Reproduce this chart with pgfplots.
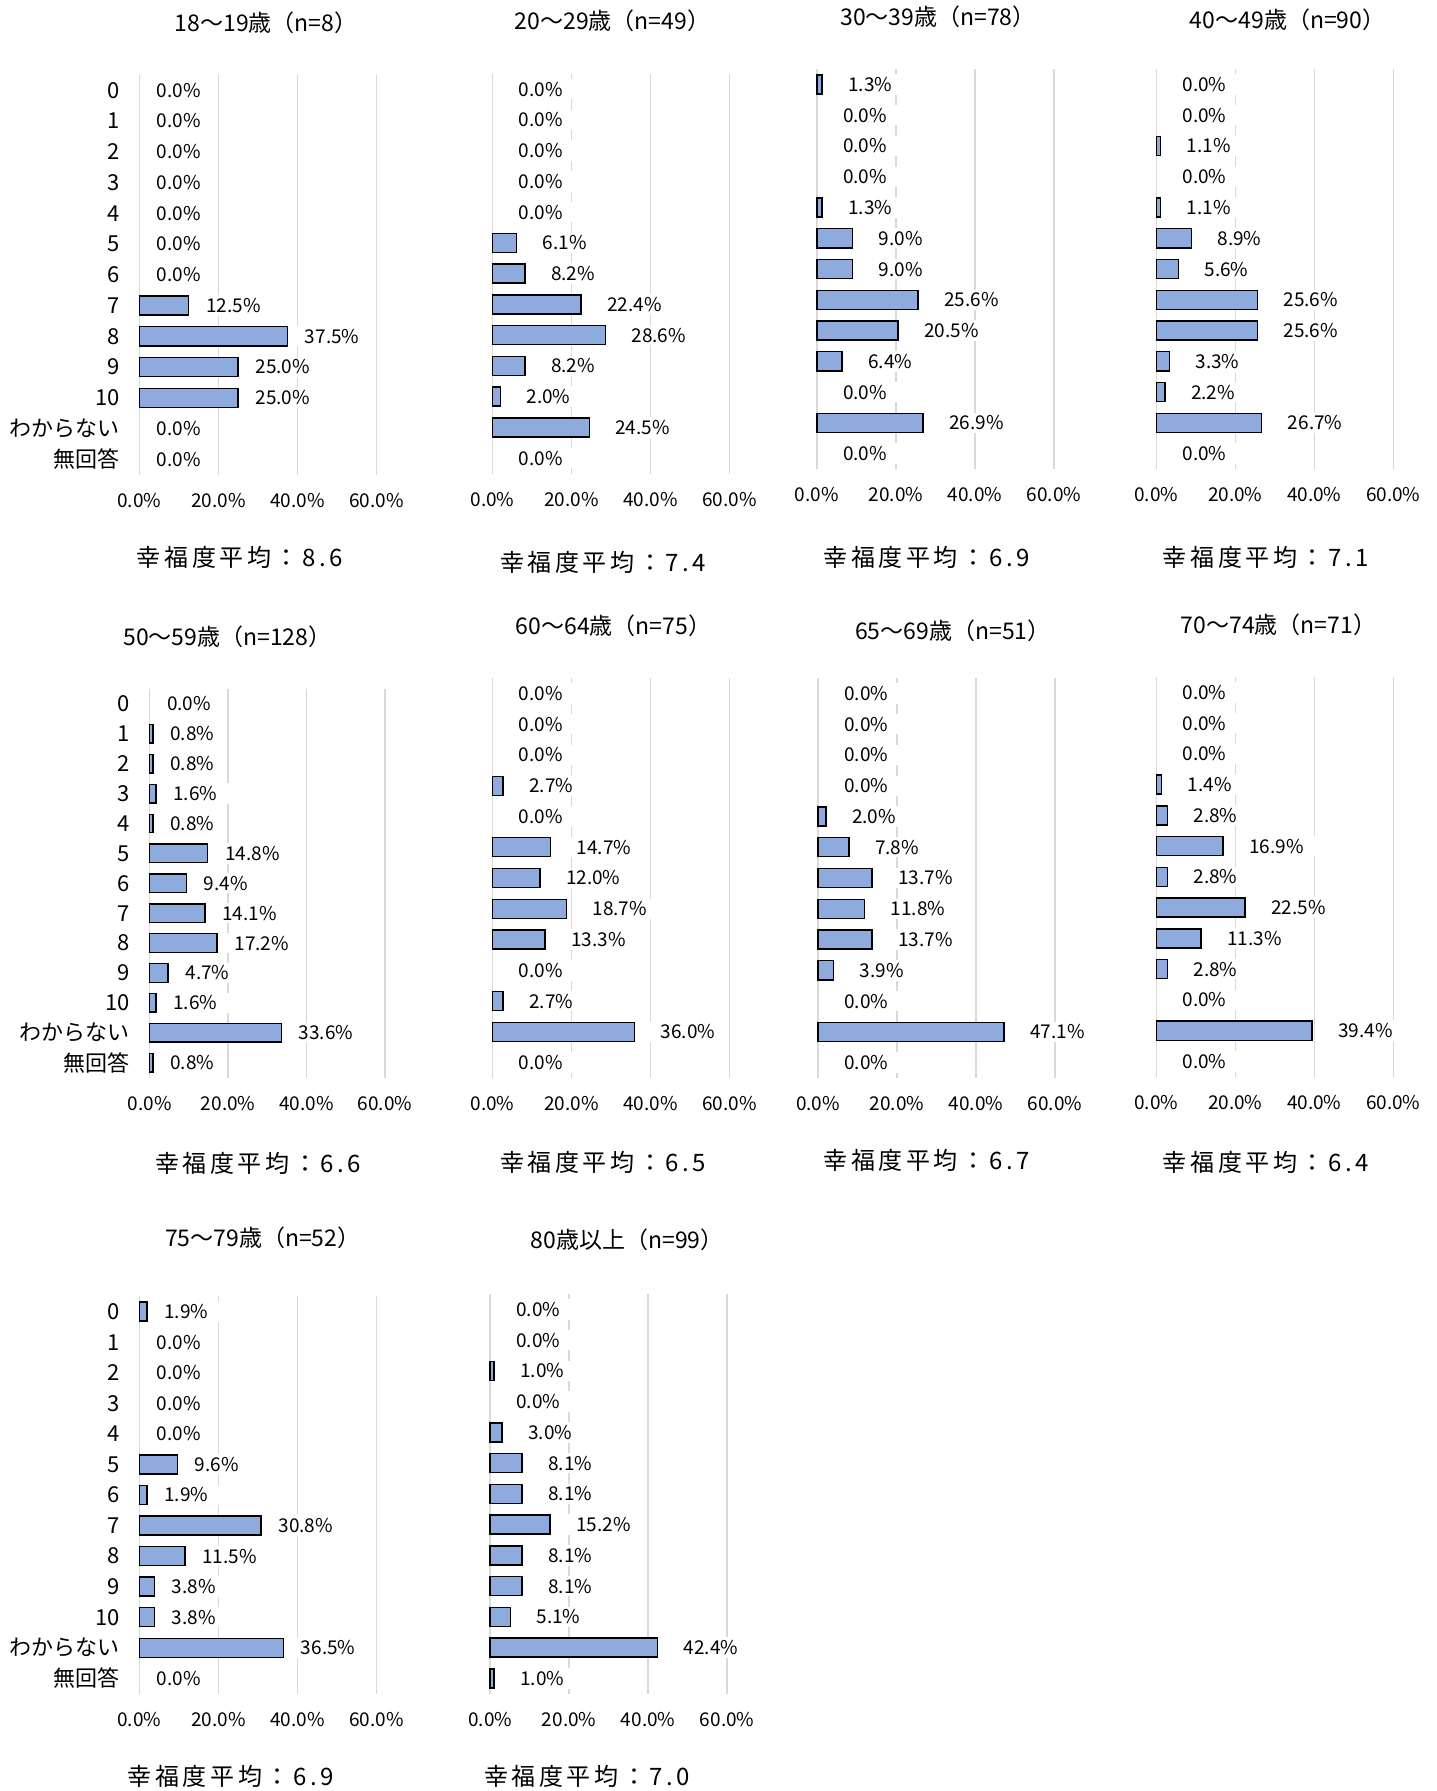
\documentclass[border=0pt]{standalone}
\usepackage{fontspec}
\setmainfont{Noto Sans CJK JP}
\newfontfamily\notefont[LetterSpace=15]{Noto Sans CJK JP}
\usepackage{pgfplots}
\usepackage{pgfplotstable}
\pgfplotsset{compat=1.18}
\definecolor{barblue}{HTML}{8FAADC}
\definecolor{gridgray}{HTML}{D9D9D9}

% positions are given in pixels of the reference (scaled), 1 unit = 0.5712pt

% c = category (0..10, わからない=11, 無回答=12), one column per age group
\pgfplotstableread{
c  a  b  d  e  f  g  h  i  j  k
0  0.0  0.0  1.3  0.0  0.0  0.0  0.0  0.0  1.9  0.0
1  0.0  0.0  0.0  0.0  0.8  0.0  0.0  0.0  0.0  0.0
2  0.0  0.0  0.0  1.1  0.8  0.0  0.0  0.0  0.0  1.0
3  0.0  0.0  0.0  0.0  1.6  2.7  0.0  1.4  0.0  0.0
4  0.0  0.0  1.3  1.1  0.8  0.0  2.0  2.8  0.0  3.0
5  0.0  6.1  9.0  8.9  14.8 14.7 7.8  16.9 9.6  8.1
6  0.0  8.2  9.0  5.6  9.4  12.0 13.7 2.8  1.9  8.1
7  12.5 22.4 25.6 25.6 14.1 18.7 11.8 22.5 30.8 15.2
8  37.5 28.6 20.5 25.6 17.2 13.3 13.7 11.3 11.5 8.1
9  25.0 8.2  6.4  3.3  4.7  0.0  3.9  2.8  3.8  8.1
10 25.0 2.0  0.0  2.2  1.6  2.7  0.0  0.0  3.8  5.1
11 0.0  24.5 26.9 26.7 33.6 36.0 47.1 39.4 36.5 42.4
12 0.0  0.0  0.0  0.0  0.8  0.0  0.0  0.0  0.0  1.0
}\happy

\pgfplotsset{
  panel/.style={
    scale only axis, width=118.5pt, height=199.9pt,
    anchor=north west, clip=false,
    xmin=0, xmax=60, ymin=-0.5, ymax=12.5, y dir=reverse,
    axis line style={draw=none}, major tick length=0pt,
    xtick={0,20,40,60}, xticklabels={0.0\%,20.0\%,40.0\%,60.0\%},
    xticklabel pos=lower,
    xticklabel style={font=\fontsize{9.5}{10}\selectfont, anchor=center, yshift=-12.85pt},
    xmajorgrids, grid style={gridgray, line width=0.75pt},
    ytick=\empty,
  },
  ylab/.style={
    ytick={0,...,12},
    yticklabels={0,1,2,3,4,5,6,7,8,9,10,わからない,無回答},
    yticklabel style={font=\fontsize{11}{12}\selectfont, anchor=east, inner sep=0pt, xshift=-9.7pt},
  },
  bars/.style={xbar, bar shift=0pt, bar width=0.62, fill=barblue, draw=black, line width=0.7pt,
    x filter/.expression={x==0 ? nan : x}},
  vals/.style={draw=none, point meta=x,
    nodes near coords={\pgfmathprintnumber[fixed,fixed zerofill,precision=1,assume math mode=true]{\pgfplotspointmeta}\%},
    nodes near coords style={anchor=west, fill=white, inner xsep=6.5pt, inner ysep=1.5pt,
      xshift=#1, font=\fontsize{9.5}{10}\selectfont}},
}

\newcommand{\ttl}[3]{\node[font=\fontsize{11.5}{12}\selectfont] at ({#1*0.5712pt},{-#2*0.5712pt}) {#3};}
\newcommand{\note}[3]{\node[font=\notefont\fontsize{12}{13}\selectfont] at ({#1*0.5712pt},{-#2*0.5712pt}) {幸福度平均：#3};}

\begin{document}
\begin{tikzpicture}
\useasboundingbox (0,0) rectangle (718pt,-895.4pt);

% ---- row 1
\begin{axis}[panel, ylab, at={({122*0.5712pt},{-65.5*0.5712pt})}]
  \addplot[bars] table[x=a, y=c] {\happy};
  \addplot[vals=2pt] table[x=a, y=c] {\happy};
\end{axis}
\begin{axis}[panel, at={({431*0.5712pt},{-64.5*0.5712pt})}]
  \addplot[bars] table[x=b, y=c] {\happy};
  \addplot[vals=6.4pt] table[x=b, y=c] {\happy};
\end{axis}
\begin{axis}[panel, at={({715*0.5712pt},{-60.5*0.5712pt})}]
  \addplot[bars] table[x=d, y=c] {\happy};
  \addplot[vals=6.4pt] table[x=d, y=c] {\happy};
\end{axis}
\begin{axis}[panel, at={({1012*0.5712pt},{-60.5*0.5712pt})}]
  \addplot[bars] table[x=e, y=c] {\happy};
  \addplot[vals=6.4pt] table[x=e, y=c] {\happy};
\end{axis}

% ---- row 2
\begin{axis}[panel, ylab, at={({131*0.5712pt},{-603*0.5712pt})}, width=117.7pt, height=194.3pt]
  \addplot[bars] table[x=f, y=c] {\happy};
  \addplot[vals=2pt] table[x=f, y=c] {\happy};
\end{axis}
\begin{axis}[panel, at={({431*0.5712pt},{-593.5*0.5712pt})}]
  \addplot[bars] table[x=g, y=c] {\happy};
  \addplot[vals=6.4pt] table[x=g, y=c] {\happy};
\end{axis}
\begin{axis}[panel, at={({716*0.5712pt},{-593.5*0.5712pt})}]
  \addplot[bars] table[x=h, y=c] {\happy};
  \addplot[vals=6.4pt] table[x=h, y=c] {\happy};
\end{axis}
\begin{axis}[panel, at={({1012*0.5712pt},{-592.5*0.5712pt})}]
  \addplot[bars] table[x=i, y=c] {\happy};
  \addplot[vals=6.4pt] table[x=i, y=c] {\happy};
\end{axis}

% ---- row 3
\begin{axis}[panel, ylab, at={({122*0.5712pt},{-1134.6*0.5712pt})}, height=198.6pt]
  \addplot[bars] table[x=j, y=c] {\happy};
  \addplot[vals=2pt] table[x=j, y=c] {\happy};
\end{axis}
\begin{axis}[panel, at={({429*0.5712pt},{-1132.5*0.5712pt})}]
  \addplot[bars] table[x=k, y=c] {\happy};
  \addplot[vals=6.4pt] table[x=k, y=c] {\happy};
\end{axis}

% titles
\ttl{233}{20}{18～19歳（n=8）}
\ttl{536}{18}{20～29歳（n=49）}
\ttl{821}{15}{30～39歳（n=78）}
\ttl{1127}{17}{40～49歳（n=90）}
\ttl{199}{557}{50～59歳（n=128）}
\ttl{537}{548}{60～64歳（n=75）}
\ttl{834}{552}{65～69歳（n=51）}
\ttl{1119}{547}{70～74歳（n=71）}
\ttl{230}{1083}{75～79歳（n=52）}
\ttl{549}{1085}{80歳以上（n=99）}

% mean scores
\note{210}{488}{8.6}
\note{528}{492}{7.4}
\note{811}{488}{6.9}
\note{1108}{488}{7.1}
\note{226}{1018}{6.6}
\note{528}{1017}{6.5}
\note{811}{1016}{6.7}
\note{1108}{1017}{6.4}
\note{202}{1555}{6.9}
\note{514}{1555}{7.0}
\end{tikzpicture}
\end{document}
